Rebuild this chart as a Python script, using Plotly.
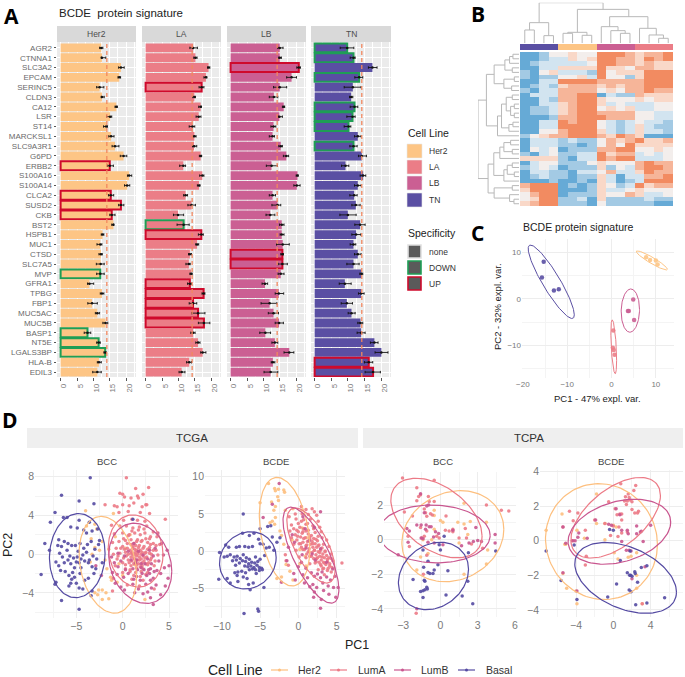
import numpy as np
import plotly.graph_objects as go

W, H = 685, 677
FONT = "Liberation Sans"
GENES = ["AGR2","CTNNA1","SLC3A2","EPCAM","SERINC5","CLDN3","CA12","LSR","ST14","MARCKSL1","SLC9A3R1","G6PD","ERBB2","S100A16","S100A14","CLCA2","SUSD2","CKB","BST2","HSPB1","MUC1","CTSD","SLC7A5","MVP","GFRA1","TPBG","FBP1","MUC5AC","MUC5B","BASP1","NT5E","LGALS3BP","HLA-B","EDIL3"]
GROUPS = ["Her2","LA","LB","TN"]
COLORS = {"Her2":"#FDC585","LA":"#EB7D87","LB":"#CB5F93","TN":"#5A4FA3"}
UPC, DOWNC = "#CF0A2C", "#1F9E55"

her2_val = [12.4,12.6,18.4,17.9,11.9,12.6,17,15.1,13.9,15.4,16.6,19.2,15,20.9,20.3,15.3,18.4,15.6,16.1,12.8,12.1,12.3,12.2,12.1,8.8,12.6,9.6,11.2,13.7,8.2,11.6,13.6,11.7,11.2]
her2_lo = [11.9,12.4,17.7,17.5,11.0,12.4,16.6,14.0,13.1,14.7,15.7,18.2,14.3,20.4,19.5,14.6,17.7,15,15.6,12.4,11.1,11.7,10.9,11,8.2,12.1,8.3,10.6,12.9,7.2,11,13.2,11.2,9.8]
her2_hi = [12.9,13.8,19.4,18.3,13.2,13.3,17.3,15.6,14.3,16.3,17.8,20.2,16.1,21.7,21.1,16.2,19.3,16.6,16.2,13.2,12.6,12.7,13.3,13.3,10.1,13.2,11.2,11.9,14.4,9.2,12.1,13.9,12.4,12.4]
la_val = [14.5,15.2,19.2,18.4,17.1,14.9,16.8,16.2,14.3,14.9,14.8,16.8,11.5,17.3,16.3,12.2,14,9.9,11.6,17,15.7,13.5,13.2,13.9,13.5,17.7,14.5,16,17.8,14.5,16,17.4,13.3,11]
la_lo = [13.5,14.7,18.9,17.8,16.3,14.4,16.2,15.4,13.3,14.5,14.3,16.4,10.4,16.5,15.8,11.6,12.9,8.5,9.6,16.1,15.3,13.1,12.3,13.5,12.8,17.2,13.3,14.1,16.1,13.8,15.3,16.8,12.5,10.2]
la_hi = [15.8,15.7,19.6,18.7,17.8,15.2,17,16.9,15,15.4,15.6,17.1,12.2,17.8,16.6,12.8,15.2,11.6,13.3,17.6,16.2,14,13.6,14.2,14,18.1,15.6,18.1,19.6,15.1,16.6,18.4,14,12]
lb_val = [15,15,20.8,18.6,15,13.2,16.2,14.9,13.1,12.8,15.3,17,12.5,20.4,20.2,12.8,14.3,12.1,15.6,15.6,15.9,15.8,15.8,15.3,10.5,14.7,11.9,13.1,14.8,10.6,13.5,17.9,12.9,12.2]
lb_lo = [14.4,14.7,20.2,17.1,13.1,11.8,15.8,14.5,12.3,11.8,14.7,16.1,10.9,20,19.3,11.8,12.6,10.8,14.9,15.1,14,15.3,14.5,14.5,9.6,13.6,9.3,11.5,13.6,8.9,12.6,16.3,12.4,10.2]
lb_hi = [16,15.5,21.3,20.1,17.1,14.4,16.5,15.8,13.8,13.4,15.8,17.7,14.3,20.6,21.2,13.7,15.3,13.5,16.3,16.3,17.9,16.1,17.3,16.3,11.3,16.2,14.1,14.6,16.1,12.2,14.4,19.3,13.5,14.4]
tn_val = [9.8,11.7,17.4,13.4,11.5,11,12,11.4,10.2,13,11.7,14.2,9.3,14.6,13,11.9,12.4,10,13.7,12.5,11.7,13,11.7,14.1,9.1,14,9.7,11.1,13.8,14,18,20.1,16.3,17.6]
tn_lo = [7.7,10.7,16.2,12.1,8.9,10.5,10.7,9.7,8.9,12,10.6,13.2,8.1,13.7,12,10.6,11.2,7.6,12.1,11.2,10.7,12,9.7,13.6,7.4,13.2,8,10.1,13,12.8,16.8,18.2,15,15.2]
tn_hi = [11.8,12.2,18.8,14.5,14,11.5,13,12.2,10.9,14,12.8,15.6,10.3,15.4,14,12.8,13.7,12.5,15.2,13.9,12.4,14,13.4,14.5,11,14.9,11.4,12.2,14.5,15.2,19.1,22.1,17.5,19.8]
thresholds = [14.1,14.2,14.2,14.2]
up_genes = {"Her2":["ERBB2","CLCA2","SUSD2","CKB"],"LA":["SERINC5","HSPB1","GFRA1","TPBG","FBP1","MUC5AC","MUC5B"],"LB":["SLC3A2","CTSD","SLC7A5"],"TN":["HLA-B","EDIL3"]}
down_genes = {"Her2":["MVP","BASP1","NT5E","LGALS3BP"],"LA":["BST2"],"LB":[],"TN":["AGR2","CTNNA1","EPCAM","CA12","LSR","ST14","SLC9A3R1"]}

heat_rows = [
[-3,-3,-2,0, 0,1,0,0, 3,3,3,2, 1,2,2,3],
[-3,-3,-2,-1, -1,1,0,1, 3,3,2,2, 1,3,2,3],
[-3,-2,-1,-1, -1,-1,-1,0, 3,3,2,2, 1,2,1,1],
[-3,-3,-1,-1, 1,1,1,1, 3,1,1,0, 2,2,1,1],
[-2,-3,0,1, -1,-1,-1,-2, 3,0,1,1, 1,3,3,3],
[-2,-3,-2,-2, 0,0,1,-1, 3,0,0,-2, 1,3,3,3],
[-3,-3,-1,-1, 3,3,3,3, 2,2,2,2, 2,3,3,3],
[-3,-2,-1,-2, 1,2,2,2, 1,2,1,2, 2,3,3,3],
[-2,-3,-1,-1, 2,2,2,2, 0,1,0,2, 2,3,2,2],
[-3,-1,-1,-1, 2,2,3,3, -3,-1,-2,-2, 2,1,1,1],
[-3,-3,-1,-2, 2,2,3,3, 1,0,0,0, 1,0,1,1],
[-3,-3,-1,-1, 1,2,3,3, 1,-1,0,-1, -1,-1,0,0],
[-3,-2,-2,-1, 1,2,3,3, 0,1,0,1, -1,-1,0,0],
[-3,-2,-2,-1, 1,2,3,3, 2,2,2,2, 0,0,-1,-1],
[-3,-3,-3,-2, 2,2,3,3, 3,2,2,2, 0,0,-1,-1],
[-3,-3,-1,-1, 3,2,3,3, 0,-1,-2,-1, 0,-1,-1,-2],
[-3,-3,-1,-1, 3,3,3,3, 0,-1,-2,-1, 1,-1,-2,-2],
[-3,-3,0,0, 2,3,3,3, 1,-1,-2,-1, 1,-1,-1,-2],
[-2,0,1,2, 2,3,3,3, 2,1,3,2, 1,-3,-3,-3],
[-3,-1,-1,-1, -2,-1,-2,-2, 0,2,1,2, 3,1,1,2],
[-3,-1,-1,-1, -2,-2,-3,-2, 0,2,0,3, 1,1,1,1],
[-3,0,-1,0, -3,-2,-2,-2, 2,2,3,3, 0,0,1,0],
[-2,-3,-1,0, -2,-2,-1,-1, 3,1,2,2, -1,0,-1,0],
[1,1,1,1, -2,-3,-1,-1, 3,2,3,3, -1,-1,-1,0],
[-3,-1,0,0, -2,-2,-2,0, 1,0,0,0, 2,3,2,2],
[-2,-1,0,-1, -3,-2,-2,-2, 1,-2,0,-1, 2,3,3,2],
[-3,-1,-1,-2, -2,-3,-1,-1, 0,2,-1,-1, 1,3,2,2],
[-3,-2,-1,-2, -2,-3,-2,-2, 1,-1,-3,-1, -1,2,2,3],
[-3,-3,-3,-2, -3,-3,-2,-3, 1,-1,-3,-2, -1,3,3,3],
[2,3,3,3, -3,-2,-3,-2, 1,0,-2,-1, 3,1,2,2],
[1,3,3,3, -3,-3,-3,-2, 1,-1,-1,0, 1,0,0,0],
[0,2,3,3, -3,-2,-2,-2, 1,0,0,2, 1,-1,-1,0],
[0,1,3,3, -2,-2,-1,-3, 1,-2,-2,-2, -2,-1,-2,-2],
[1,2,3,3, -2,-2,-2,-3, 0,-2,-2,-2, -2,-2,-3,-3],
]
heat_cols = ["TN"]*4 + ["Her2"]*4 + ["LB"]*4 + ["LA"]*4
col_merges = [(0,1,40),(2,3,23),(16,17,62),(4,5,30),(6,7,24),(19,20,33),(10,11,30),(9,22,38),(8,23,50),(14,15,15),(13,25,25),(12,26,45),(24,27,80),(21,28,102),(18,29,122)]
row_merges = [(0,1,18),(34,2,28),(3,4,20),(35,36,42),(5,6,14),(7,8,22),(38,39,45),(37,40,74),(9,10,20),(11,12,14),(13,14,14),(43,44,25),(42,45,38),(15,16,18),(47,17,30),(46,48,52),(49,18,64),(41,50,97),(19,20,25),(21,22,20),(52,53,45),(54,23,57),(24,25,20),(26,27,14),(56,57,35),(58,28,45),(29,30,20),(32,33,15),(31,61,28),(60,62,74),(55,59,75),(64,63,92),(51,65,122)]

pca_pts = {
"Her2":[(7.8,9),(8.7,8.4),(10,8.3),(10.4,7.4)],
"LA":[(0.4,-6.8),(0.3,-10.5),(0.5,-11),(0.7,-12)],
"LB":[(4.9,-0.1),(3.7,-2.6),(3.9,-2.6),(5.1,-4.5)],
"TN":[(-15.3,8),(-15.7,4.6),(-13,1.8),(-11.9,2.1)]}
# centre x, centre y, half width, half height, correlation
pca_ell = {"Her2":(9.1,8.3,3.5,2.05,-0.93),"LA":(0.5,-10.3,0.65,5.8,-0.5),"LB":(4.25,-2.5,2.07,4.65,0.05),"TN":(-13.6,3.7,5.2,7.9,-0.9)}

D_GROUPS = ["Her2","LumA","LumB","Basal"]
D_COLORS = {"Her2":"#FDBF7E","LumA":"#EC7A86","LumB":"#C9568F","Basal":"#544AA2"}

d1_pts = {
"Her2":[(-4.0,4.5),(-1.0,4.2),(-3.9,2.9),(-3.0,3.1),(-2.8,2.6),(-3.4,1.6),(-3.0,0.7),(-3.3,0.0),(-2.5,0.4),(-3.5,-0.8),(-1.7,-1.5),(-1.3,-2.4),(-1.2,-2.7),(-0.6,-2.9),(-2.6,-3.7),(-3.0,-4.0),(-2.7,-4.2),(-2.2,-3.7),(-1.8,-4.0),(-2.2,-4.7),(-1.5,-4.6),(2.4,-4.7),(0.0,-2.2),(-0.4,-1.0),(0.3,0.6),(0.8,2.0),(-1.5,0.5),(-2.2,1.3),(-0.8,1.8),(-1.9,-0.6),(1.3,-1.1)],
"LumA":[(0.4,7.9),(1.4,6.8),(2.8,6.9),(-0.3,6.3),(0.0,6.2),(2.2,6.2),(1.6,6.0),(1.7,5.8),(0.9,5.8),(0.2,5.9),(1.2,5.3),(-1.9,5.1),(-0.9,5.0),(-0.6,4.9),(0.0,5.1),(2.5,5.1),(2.6,5.1),(0.7,5.0),(2.1,4.9),(4.6,3.6),(-0.4,4.3),(0.6,4.4),(1.9,4.3),(2.9,4.2),(0.1,3.5),(1.0,3.6),(1.6,3.5),(2.4,3.4),(-1.2,3.0),(-0.3,2.9),(0.4,2.9),(1.1,2.7),(1.8,2.8),(2.6,2.9),(3.3,2.3),(-0.9,2.1),(0.0,2.2),(0.7,2.0),(1.3,2.2),(1.9,2.0),(2.4,2.2),(3.0,1.8),(3.7,1.8),(-1.1,1.2),(-0.4,1.3),(0.3,1.4),(0.9,1.5),(1.5,1.3),(2.1,1.4),(2.7,1.2),(3.3,1.1),(4.0,1.0),(-0.7,0.6),(0.0,0.8),(0.5,0.6),(1.1,0.8),(1.7,0.7),(2.2,0.6),(2.9,0.7),(3.6,0.4),(-1.0,0.0),(-0.3,0.1),(0.3,0.2),(0.9,0.1),(1.4,0.2),(2.0,0.0),(2.5,0.2),(3.1,0.0),(3.8,-0.1),(-0.6,-0.5),(0.1,-0.4),(0.6,-0.6),(1.2,-0.4),(1.8,-0.6),(2.4,-0.4),(3.0,-0.6),(-0.8,-1.2),(0.3,-1.1),(0.9,-1.2),(1.5,-1.1),(2.1,-1.2),(2.7,-1.1),(3.4,-1.2),(0.0,-1.9),(0.8,-1.8),(1.4,-1.9),(2.0,-1.8),(2.7,-1.9),(1.0,-2.6),(2.2,-2.7),(-1.0,-2.5),(0.5,-3.2),(1.8,-3.3),(-1.1,-3.8),(3.4,-3.6),
(0.2,0.5),(0.4,-0.2),(0.5,1.1),(0.6,0.0),(0.7,-0.9),(0.8,0.4),(0.9,-0.3),(0.9,1.0),(1.0,-0.7),(1.0,0.2),(1.1,-0.1),(1.1,0.6),(1.2,-1.0),(1.2,1.1),(1.3,0.0),(1.3,-0.5),(1.3,0.5),(1.4,-0.8),(1.4,0.9),(1.5,-0.2),(1.5,-1.4),(1.5,0.4),(1.6,0.0),(1.6,-0.6),(1.6,1.5),(1.7,-1.0),(1.7,0.2),(1.8,-0.3),(1.8,0.9),(1.9,-1.3),(1.9,0.4),(2.0,-0.5),(2.0,1.3),(2.1,-0.9),(2.1,0.2),(2.2,-0.2),(2.2,-1.5),(2.3,0.8),(2.3,-0.7),(2.4,0.1),(2.5,-1.0),(2.5,1.6),(2.6,-0.3),(2.7,0.5),(2.8,-0.9),(2.9,0.1),(3.0,1.0),(3.1,-0.4),(3.3,0.4),(0.1,1.6),(0.3,-1.5),(0.6,1.9),(0.8,-1.6),(1.0,2.4),(1.2,-2.2),(1.7,2.5),(1.9,-2.3),(2.3,2.6),(2.5,-2.1),(2.9,1.6),(0.0,-0.9),(-0.2,0.6),(-0.5,-0.2),(3.5,-0.7),(3.6,0.9)],
"LumB":[(-1.2,-0.3),(-0.9,-0.9),(-0.5,-1.3),(-0.2,-0.7),(0.3,-1.6),(-1.1,-1.9),(-0.6,-2.1),(0.1,-2.4),(0.6,-2.0),(1.1,-1.5),(1.5,-2.3),(1.9,-2.7),(2.3,-1.6),(2.6,-2.2),(3.0,-1.5),(3.3,-2.5),(3.7,-1.7),(4.1,-2.0),(4.5,-1.4),(4.9,-2.5),(5.0,-1.2),(3.9,-0.7),(3.3,-0.2),(4.4,-0.1),(2.7,-0.5),(2.2,-0.1),(1.7,0.3),(2.9,0.4),(3.5,0.6),(4.2,1.1),(3.8,2.2),(4.8,0.4),(1.2,1.1),(0.6,0.3),(0.2,-0.2),(-0.5,0.1),(1.4,-0.9),(2.0,-1.0),(1.1,-3.1),(1.7,-3.6),(2.5,-3.1),(3.1,-3.5),(3.6,-3.2),(0.2,-3.7),(2.2,-4.1),(3.0,-4.5),(3.3,-5.2),(4.1,-4.2),(2.7,-3.9),(1.3,-4.0),(4.6,-3.3),(-0.8,-3.0),(-2.9,-1.2),(-2.3,-2.2),(-0.2,-3.4),(1.5,-0.6),(2.0,-1.4),(2.4,-1.0),(2.8,-1.6),(3.1,-1.0),(3.4,-1.8),(2.1,-2.0),(3.0,-2.7),(1.6,-1.6),(2.9,-2.0),(0.9,-0.6),(1.2,-2.6)],
"Basal":[(-3.5,7.9),(-6.6,6.1),(-4.7,5.5),(-3.1,5.2),(-7.3,4.3),(-7.8,3.3),(-6.4,3.8),(-6.0,3.8),(-4.7,3.5),(-3.6,3.3),(1.1,3.6),(-5.6,2.8),(-4.9,2.7),(-4.2,2.5),(-3.9,2.2),(-3.3,2.4),(-2.7,2.6),(-2.5,1.4),(-6.9,1.5),(-7.0,0.9),(-6.6,0.8),(-6.3,1.3),(-5.9,1.1),(-5.5,0.9),(-5.1,0.9),(-4.6,1.1),(-4.2,0.6),(-3.8,1.0),(-3.4,1.3),(-3.0,0.5),(-2.6,1.0),(-8.4,1.1),(-7.9,0.4),(-6.8,0.1),(-6.5,-0.3),(-6.0,0.4),(-5.7,-0.2),(-5.3,-0.4),(-4.9,-0.3),(-4.8,0.3),(-4.5,-0.5),(-4.3,-0.1),(-3.9,0.2),(-3.6,-0.6),(-3.2,-0.2),(-2.8,-0.5),(-2.2,-0.9),(-7.2,-0.8),(-6.9,-1.2),(-6.3,-0.9),(-5.9,-0.6),(-5.6,-1.0),(-5.2,-1.4),(-5.0,-0.8),(-4.7,-0.9),(-4.5,-1.4),(-4.1,-0.7),(-3.7,-0.9),(-3.3,-1.3),(-2.9,-1.5),(-8.8,-2.1),(-7.2,-2.9),(-6.7,-1.7),(-6.2,-1.8),(-5.8,-2.2),(-5.4,-1.9),(-5.2,-2.4),(-4.6,-2.0),(-4.1,-2.7),(-3.7,-2.5),(-3.1,-2.0),(-7.3,-3.1),(-5.8,-3.3),(-5.0,-3.0),(-4.3,-3.6),(-3.4,-4.3),(-6.6,-4.8),(-4.7,-3.5),(-3.3,-3.8),(-5.6,-3.0),(-5.5,-2.6),(-4.7,-5.7)]}
d1_ell = {"Her2":(-1.6,-1.1,3.1,5.0,-0.23),"LumA":(1.4,0.33,2.95,3.73,-0.1),"LumB":(1.9,-0.95,3.4,4.15,-0.2),"Basal":(-4.9,-0.15,3.0,4.35,0.05)}

d2_pts = {
"Her2":[(-3.9,9.1),(-3.1,8.4),(-2.6,8.3),(-3.0,8.1),(-1.9,8.2),(-1.8,7.9),(-2.7,7.3),(-2.6,6.8),(-3.5,6.6),(-5.0,6.5),(-3.0,6.0),(-3.2,5.5),(-1.7,5.5),(-0.7,5.7),(0.4,5.5),(-3.0,4.5),(-3.4,4.0),(-3.7,3.8),(-3.1,3.6),(-2.4,2.7),(-2.2,2.1),(-0.8,1.5),(0.5,3.1),(1.1,1.8),(-1.9,0.9),(0.2,0.2),(0.9,-0.7),(-1.6,-1.8),(-1.1,-2.7),(-2.8,-3.7),(-2.2,-3.5),(-0.7,-3.9),(1.0,-2.0),(1.4,-0.1),(0.2,-1.7)],
"LumA":[(0.4,6.0),(1.0,5.6),(1.8,5.7),(2.1,5.3),(-0.4,5.0),(0.5,5.0),(1.3,4.9),(2.4,4.8),(-1.2,4.6),(-0.3,4.3),(0.7,4.2),(1.6,4.3),(2.6,4.0),(-0.9,3.5),(0.0,3.7),(1.0,3.6),(1.9,3.4),(2.8,3.2),(-1.1,2.7),(-0.2,2.8),(0.6,2.6),(1.3,2.8),(2.2,2.5),(3.0,2.6),(-0.9,1.8),(-0.1,2.0),(0.7,1.7),(1.5,1.9),(2.3,1.6),(3.1,1.8),(3.7,1.5),(-0.6,0.9),(0.3,1.0),(1.1,0.8),(1.9,1.0),(2.6,0.7),(3.3,0.9),(4.0,0.6),(-0.3,0.1),(0.6,0.2),(1.3,-0.1),(2.1,0.1),(2.8,-0.2),(3.5,0.0),(4.3,-0.4),(0.1,-0.8),(1.0,-0.9),(1.7,-0.7),(2.4,-1.0),(3.1,-0.8),(3.8,-1.1),(4.5,-1.3),(1.5,-1.7),(2.2,-1.6),(2.9,-1.8),(3.4,-1.6),(4.1,-2.0),(2.6,-2.5),(3.2,-2.4),(3.8,-2.6),(4.3,-2.8),(3.4,-3.2),(5.7,-1.6),(-1.3,-1.9),(-1.6,-1.3),(-1.7,-0.5),
(-0.6,3.0),(-0.4,2.2),(-0.2,1.5),(0.0,2.6),(0.1,1.0),(0.2,3.2),(0.3,1.9),(0.4,0.5),(0.5,2.4),(0.6,1.2),(0.7,3.0),(0.8,0.2),(0.9,1.8),(1.0,2.7),(1.0,0.7),(1.1,-0.4),(1.2,1.3),(1.3,2.3),(1.4,0.3),(1.5,1.6),(1.5,-0.7),(1.6,0.9),(1.7,2.1),(1.8,-0.2),(1.8,1.3),(1.9,0.5),(2.0,-1.0),(2.0,1.7),(2.1,0.1),(2.2,1.0),(2.3,-0.5),(2.3,-1.4),(2.4,0.5),(2.5,1.4),(2.5,-0.9),(2.6,-0.1),(2.7,-1.5),(2.7,0.8),(2.8,-0.7),(2.9,0.1),(3.0,-1.2),(3.0,-2.0),(3.1,0.4),(3.2,-0.4),(3.3,-1.5),(3.3,-2.3),(3.4,-0.9),(3.5,-0.1),(3.6,-1.8),(3.7,-0.6),(3.8,-1.4),(3.9,-2.3),(4.0,-0.9),(4.1,-1.7),(4.3,-1.0),(4.4,-2.2),(0.4,4.0),(1.2,3.7),(2.0,3.0),(2.6,2.0)],
"LumB":[(-3.4,6.3),(-4.6,4.5),(-2.5,9.1),(-1.5,-1.3),(-2.2,-4.2),(-0.6,-3.0),(0.0,-2.1),(-1.3,0.5),(0.5,-0.5),(1.0,-2.3),(0.6,-3.2),(1.2,-3.6),(1.7,-2.9),(2.1,-3.4),(2.5,-3.1),(2.9,-3.6),(3.2,-4.3),(3.7,-3.5),(4.2,-3.9),(4.8,-3.4),(4.6,-4.9),(5.2,-4.9),(3.9,-4.7),(1.9,-4.5),(2.4,-4.9),(3.3,-5.3),(4.0,-5.8),(4.9,-6.2),(2.0,-6.2),(3.0,-6.5),(2.1,-5.5),(1.5,-4.8),(0.8,-4.3),(-0.4,-3.9),(0.4,-1.5),(1.4,1.4),(2.1,3.2),(0.9,3.0),(2.9,0.3),(3.7,-1.5),(2.2,-1.2),(1.0,0.4),(-0.5,1.2),(-0.8,2.2),(0.6,4.6),(2.9,5.3),(1.8,-0.4),(3.1,-2.8),(4.5,-2.4),(2.9,-7.7)],
"Basal":[(-7.2,5.0),(-5.0,3.0),(-4.0,3.3),(-3.6,3.4),(-3.4,1.9),(-2.8,1.2),(-2.4,1.8),(-7.3,2.4),(-6.4,2.1),(-5.8,2.4),(-5.2,1.6),(-9.5,0.8),(-9.1,0.5),(-8.1,0.5),(-7.7,0.6),(-7.0,0.6),(-6.5,0.5),(-6.0,0.6),(-5.0,1.0),(-4.6,0.9),(-4.2,0.4),(-3.8,0.5),(-3.2,0.1),(-10.3,-0.2),(-9.7,-0.8),(-9.3,-0.7),(-8.9,-0.5),(-8.4,-0.8),(-8.0,-0.7),(-7.6,-1.0),(-7.2,-0.5),(-6.8,-0.9),(-6.4,-1.1),(-5.6,-0.8),(-5.0,-1.1),(-4.4,-0.6),(-8.6,-1.3),(-8.1,-1.2),(-7.7,-1.6),(-7.3,-1.3),(-6.9,-1.4),(-6.5,-1.7),(-6.1,-1.5),(-5.7,-1.6),(-5.3,-1.4),(-8.2,-1.9),(-7.0,-2.0),(-6.6,-2.1),(-6.2,-2.0),(-5.8,-2.2),(-5.4,-1.9),(-5.1,-2.2),(-4.8,-2.3),(-6.4,-2.5),(-6.0,-2.4),(-5.6,-2.5),(-5.1,-2.6),(-4.7,-2.5),(-8.3,-2.9),(-7.9,-2.8),(-7.4,-2.7),(-6.9,-2.9),(-5.5,-3.0),(-8.0,-3.3),(-7.2,-3.5),(-6.7,-3.7),(-10.4,-3.8),(-9.3,-3.7),(-8.9,-4.3),(-7.9,-4.1),(-6.5,-4.5),(-5.9,-4.3),(-4.5,-4.9),(-6.3,-5.2),(-5.3,-7.8),(-5.2,-8.1),(-7.1,-8.4)]}
d2_ell = {"Her2":(-1.8,2.6,3.3,7.3,-0.3),"LumA":(1.65,0.75,3.15,5.05,-0.65),"LumB":(1.65,-0.55,3.65,6.45,-0.72),"Basal":(-6.6,-1.25,3.7,3.85,0.1)}

d3_pts = {
"Her2":[(1.9,2.1),(-0.5,1.7),(-0.5,1.4),(0.0,1.1),(0.2,1.0),(2.4,1.05),(3.7,1.0),(1.4,1.0),(1.9,0.9),(2.2,0.3),(-0.7,0.0),(-1.4,0.0),(1.5,-0.2),(3.8,-0.6),(3.7,-1.4),(-1.6,-1.0),(-1.0,-0.8),(-1.9,-1.75),(1.9,-2.0),(-0.5,0.6)],
"LumA":[(-3.05,3.56),(-0.5,3.44),(-1.9,3.0),(-1.75,2.5),(-1.9,2.25),(-0.97,2.5),(-0.9,2.2),(-0.5,2.2),(-2.9,1.6),(-2.25,1.37),(-1.3,1.77),(-0.65,1.42),(0.45,1.37),(3.7,2.0),(4.9,1.7),(5.5,1.65),(-1.95,-4.25),(-1.37,-2.0),(-1.1,1.35),(-0.8,1.5),(1.0,0.6),(1.0,0.45),(2.0,0.65),(2.1,0.1),(1.5,0.1),(-0.3,0.2),(-0.1,0.1),(0.4,0.55),(0.7,0.5),(-1.6,0.7),(-1.1,0.5),(-2.6,0.2),(-2.5,-0.4),(-1.3,0.2),(-1.5,0.1),(-1.1,-0.9),(-1.6,2.6),(-1.2,1.55),(3.4,-0.5),(2.5,-0.25)],
"LumB":[(-3.4,-0.87),(-1.6,2.65),(-1.3,1.55),(-1.1,1.95),(-0.95,2.0),(-2.7,0.65),(-2.5,0.5),(-1.9,0.85),(-1.55,0.85),(-1.2,0.6),(-0.9,0.75),(-0.75,0.75),(-1.15,0.85),(-0.4,0.45),(-0.15,0.35),(-0.55,0.15),(-1.55,0.1),(-1.4,0.05),(-1.0,-0.15),(-0.5,-0.2),(0.2,-0.3),(-2.6,-0.15),(1.7,-0.35),(2.3,-0.2),(2.65,-0.1),(3.0,-0.05),(3.3,-0.1),(2.85,0.7),(4.4,0.3),(4.4,-0.2),(1.0,0.55),(-1.9,-4.0)],
"Basal":[(0.3,0.2),(-0.1,-0.3),(0.0,-0.6),(-1.4,-0.6),(-1.0,-1.25),(-0.2,-1.45),(-0.5,-1.75),(-0.6,-1.95),(-0.85,-1.95),(-1.0,-1.9),(-1.35,-1.6),(0.6,-1.8),(-2.2,-2.3),(-1.3,-2.35),(-1.25,-2.4),(-1.1,-2.75),(-1.05,-2.85),(-1.25,-2.9),(-1.4,-2.95),(-1.6,-3.0),(-1.4,-3.35),(0.45,-3.2),(1.75,-3.25),(2.2,-2.4),(2.6,-3.7),(2.25,-0.75),(4.45,-0.65)]}
d3_ell = {"Her2":(1.0,0.2,4.1,2.63,0.15),"LumA":(-0.32,1.25,3.67,2.3,-0.45),"LumB":(-0.5,0.33,4.5,1.67,-0.05),"Basal":(-0.56,-2.1,2.82,1.95,0.2)}

d4_pts = {
"Her2":[(-1.8,2.7),(-5.5,1.55),(-7.2,0.6),(-3.9,0.6),(-1.8,1.0),(-0.9,1.0),(0.0,0.9),(0.3,0.8),(-3.1,0.15),(-0.9,0.05),(-5.2,-0.2),(-5.1,-0.2),(0.1,-0.7),(0.5,-1.05),(1.6,-0.95),(1.9,-0.9),(2.5,-0.7),(2.5,-2.0),(-5.4,-1.9),(-5.0,-2.75),(-3.9,-3.65),(3.1,-3.65),(2.5,-2.75),(-4.0,-2.9)],
"LumA":[(0.8,3.3),(2.4,3.2),(2.2,2.9),(1.6,2.7),(1.3,2.55),(1.7,2.5),(1.2,2.3),(1.5,2.3),(1.8,2.35),(1.4,2.1),(2.0,2.25),(-0.5,2.25),(0.2,1.85),(2.0,1.8),(2.3,1.6),(2.6,1.6),(2.7,1.7),(-4.7,1.7),(-3.8,1.6),(0.4,1.5),(0.7,1.55),(0.9,1.55),(-4.3,1.15),(-2.0,1.2),(-0.9,1.0),(0.9,1.2),(-3.0,0.6),(-5.4,0.8),(0.6,0.8),(0.0,0.85),(-0.3,0.3),(0.5,0.25),(0.9,0.45),(1.5,0.5),(-3.0,-1.4),(-2.9,-0.9),(-4.3,0.0),(3.1,-3.65)],
"LumB":[(-5.4,0.8),(-5.1,-0.15),(-4.4,0.0),(-4.1,0.0),(-3.8,0.2),(-3.7,0.45),(-2.8,0.15),(-1.9,1.2),(-0.5,0.95),(-0.2,0.9),(0.3,1.85),(0.7,1.5),(0.9,0.6),(1.5,0.6),(1.6,0.4),(2.5,0.85),(2.5,0.4),(2.9,0.5),(3.0,0.55),(4.0,0.9),(3.2,-0.05),(0.9,-0.05),(1.4,-0.55),(1.7,-0.55),(1.9,-0.6),(-5.4,-1.85),(2.0,-2.2),(-3.9,-2.9),(3.4,-1.5)],
"Basal":[(-7.2,-0.6),(-4.2,-0.25),(-0.4,0.65),(0.0,0.6),(1.8,-0.6),(0.75,-1.15),(1.5,-1.85),(1.75,-2.0),(1.85,-2.0),(2.0,-2.05),(2.3,-1.8),(2.35,-1.9),(3.0,-1.55),(3.6,-1.45),(0.35,-2.5),(1.7,-2.85),(1.9,-2.95),(2.6,-2.4),(-5.6,-2.3),(-0.6,-3.25),(-3.9,-3.4),(2.4,-3.7),(3.6,-3.6),(5.5,-3.3)]}
d4_ell = {"Her2":(-1.27,-0.05,6.0,3.35,-0.05),"LumA":(0.25,1.33,4.8,2.33,0.55),"LumB":(0.65,0.52,5.5,1.88,0.3),"Basal":(1.32,-2.15,5.45,2.05,-0.4)}


def hd(a, b): return [a / W, b / W]
def vd(t, b): return [1 - b / H, 1 - t / H]
def px(x): return x / W
def py(y): return 1 - y / H

def ellipse(cx, cy, rx, ry, rho):
    t = np.linspace(0, 2 * np.pi, 120)
    return cx + rx * np.cos(t), cy + ry * (rho * np.cos(t) + np.sqrt(1 - rho ** 2) * np.sin(t))

def dendro(merges, n):
    pos = {i: i for i in range(n)}
    hgt = {i: 0 for i in range(n)}
    p, h = [], []
    for k, (a, b, ht) in enumerate(merges):
        p += [pos[a], pos[a], pos[b], pos[b], None]
        h += [hgt[a], ht, ht, hgt[b], None]
        pos[n + k] = (pos[a] + pos[b]) / 2
        hgt[n + k] = ht
    return p, h

fig = go.Figure()
layout = {}
shapes, annots = [], []

def text(x, y, s, size=9, color="#4D4D4D", anchor="center", angle=0, bold=False, family=FONT):
    annots.append(dict(x=px(x), y=py(y), xref="paper", yref="paper", text=f"<b>{s}</b>" if bold else s, showarrow=False,
                       font=dict(size=size, color=color, family=family), xanchor=anchor, yanchor="middle", textangle=angle))

def rect(x0, y0, x1, y1, fill, line=None, lw=0):
    shapes.append(dict(type="rect", xref="paper", yref="paper", x0=px(x0), x1=px(x1), y0=py(y0), y1=py(y1),
                       fillcolor=fill, line=dict(color=line or fill, width=lw), layer="below"))

# ---------- Panel A
a_domains = [(57, 136), (142, 221), (227, 306), (311, 391)]
a_data = [(her2_val, her2_lo, her2_hi), (la_val, la_lo, la_hi), (lb_val, lb_lo, lb_hi), (tn_val, tn_lo, tn_hi)]
for i, g in enumerate(GROUPS):
    n = i + 1
    sfx = "" if n == 1 else str(n)
    xn, yn = "x" + sfx, "y" + sfx
    l, r = a_domains[i]
    rect(l, 42, r, 377, "#EBEBEB")
    rect(l, 26, r, 42, "#D9D9D9")
    text((l + r) / 2, 34, g, size=8.5, color="#4D4D4D")
    v, lo, hi = [np.array(q, float) for q in a_data[i]]
    linecol = [UPC if t in up_genes[g] else DOWNC if t in down_genes[g] else COLORS[g] for t in GENES]
    linew = [2 if t in up_genes[g] or t in down_genes[g] else 0 for t in GENES]
    fig.add_trace(go.Bar(y=GENES, x=v, orientation="h", width=0.9, marker=dict(color=COLORS[g], line=dict(color=linecol, width=linew)),
                         xaxis=xn, yaxis=yn, showlegend=False))
    fig.add_trace(go.Scatter(y=GENES, x=v, mode="markers", marker=dict(size=2.5, color="#111111"),
                             error_x=dict(type="data", symmetric=False, array=np.clip(hi - v, 0, None), arrayminus=np.clip(v - lo, 0, None), color="#111111", thickness=0.9, width=1.2),
                             xaxis=xn, yaxis=yn, showlegend=False))
    shapes.append(dict(type="line", xref=xn, yref=f"{yn} domain", x0=thresholds[i], x1=thresholds[i], y0=0, y1=1,
                       line=dict(color="#F2875F", width=1.3, dash="4px,3px"), layer="above"))
    layout["xaxis" + sfx] = dict(domain=hd(l, r), range=[-1.1, 23], anchor=yn, tick0=0, dtick=5, tickangle=-90, ticks="outside", ticklen=2.5, tickwidth=0.8,
                      tickcolor="#555555", ticklabelshift=3, tickfont=dict(size=8, color="#7A7A7A", family=FONT), showgrid=True, gridcolor="white", gridwidth=0.8,
                      minor=dict(showgrid=True, gridcolor="white", gridwidth=0.4, dtick=2.5, tick0=0), zeroline=False, showline=False)
    layout["yaxis" + sfx] = dict(domain=vd(42, 377), range=[33.5, -0.6], anchor=xn, type="category", categoryorder="array", categoryarray=GENES, showgrid=True,
                      gridcolor="white", gridwidth=0.8, zeroline=False, showline=False, showticklabels=(n == 1), ticks="outside" if n == 1 else "", ticklen=2.5, tickwidth=0.8,
                      tickcolor="#555555", dtick=1, tickfont=dict(size=8, color="#6A6A6A", family=FONT))
text(57, 13, "BCDE  protein signature", size=11.5, color="#222222", anchor="left")

# Panel A legends
text(406, 133, "Cell Line", size=10.5, color="#222222", anchor="left")
for k, (g, yy) in enumerate(zip(GROUPS, (144, 160, 176, 193))):
    rect(407, yy, 422, yy + 14, COLORS[g], "#E8E8E8", 0.6)
    text(427, yy + 7, g, size=8.5, color="#333333", anchor="left")
text(406, 233, "Specificity", size=10.5, color="#222222", anchor="left")
for lab, yy, lc in (("none", 245, "#E0E0E0"), ("DOWN", 261, DOWNC), ("UP", 277, UPC)):
    rect(408, yy, 421, yy + 13, "#5A5A5A", lc, 1.6)
    text(427, yy + 7, lab, size=8.5, color="#333333", anchor="left")

# ---------- Panel B
steps = ["#66AAD6", "#A3CAE4", "#D2E4F0", "#F3EEEC", "#F9D8C8", "#F6B599", "#F28B61"]
cs = []
for k, c in enumerate(steps):
    cs += [[k / 7, c], [(k + 1) / 7, c]]
fig.add_trace(go.Heatmap(z=heat_rows, zmin=-3.5, zmax=3.5, colorscale=cs, showscale=False, xgap=0, ygap=0, zsmooth=False, xaxis="x5", yaxis="y5"))
layout["xaxis5"] = dict(domain=hd(520, 673), range=[-0.5, 15.5], anchor="y5", visible=False)
layout["yaxis5"] = dict(domain=vd(52, 206), range=[33.5, -0.5], anchor="x5", visible=False)
gi = [GROUPS.index(c) for c in heat_cols]
acs = []
for k, g in enumerate(GROUPS):
    acs += [[k / 4, COLORS[g]], [(k + 1) / 4, COLORS[g]]]
fig.add_trace(go.Heatmap(z=[gi], zmin=-0.5, zmax=3.5, colorscale=acs, showscale=False, xaxis="x6", yaxis="y6"))
layout["xaxis6"] = dict(domain=hd(520, 673), range=[-0.5, 15.5], anchor="y6", visible=False)
layout["yaxis6"] = dict(domain=vd(44, 50), range=[-0.5, 0.5], anchor="x6", visible=False)
cp, ch = dendro(col_merges, 16)
fig.add_trace(go.Scatter(x=cp, y=ch, mode="lines", line=dict(color="#B8B8B8", width=1), xaxis="x7", yaxis="y7", showlegend=False))
layout["xaxis7"] = dict(domain=hd(520, 673), range=[-0.5, 15.5], anchor="y7", visible=False)
layout["yaxis7"] = dict(domain=vd(2.7, 43.3), range=[0, 122], anchor="x7", visible=False)
rp, rh = dendro(row_merges, 34)
fig.add_trace(go.Scatter(x=rh, y=rp, mode="lines", line=dict(color="#B8B8B8", width=1), xaxis="x8", yaxis="y8", showlegend=False))
layout["xaxis8"] = dict(domain=hd(478, 519), range=[122, 0], anchor="y8", visible=False)
layout["yaxis8"] = dict(domain=vd(52, 206), range=[33.5, -0.5], anchor="x8", visible=False)

# ---------- scatter panels
def scatter_panel(n, pts, ells, colors, order, xdom, ydom, xr, yr, xd, yd, msize, elw):
    xn, yn = f"x{n}", f"y{n}"
    for g in order:
        a = np.array(pts[g])
        fig.add_trace(go.Scatter(x=a[:, 0], y=a[:, 1], mode="markers", marker=dict(size=msize, color=colors[g], opacity=0.9), xaxis=xn, yaxis=yn, showlegend=False))
    for g in order:
        ex, ey = ellipse(*ells[g])
        fig.add_trace(go.Scatter(x=ex, y=ey, mode="lines", line=dict(color=colors[g], width=elw), xaxis=xn, yaxis=yn, showlegend=False))
    grid = "#EDEDED"
    layout[f"xaxis{n}"] = dict(domain=hd(*xdom), range=xr, anchor=yn, tick0=0, dtick=xd, showgrid=True, gridcolor=grid, gridwidth=1, zeroline=False, ticks="",
                               minor=dict(showgrid=True, gridcolor="#F4F4F4", gridwidth=0.6, dtick=xd / 2, tick0=0), tickfont=dict(size=TF[n], color="#7A7A7A", family=FONT))
    layout[f"yaxis{n}"] = dict(domain=vd(*ydom), range=yr, anchor=xn, tick0=0, dtick=yd, showgrid=True, gridcolor=grid, gridwidth=1, zeroline=False, ticks="",
                               minor=dict(showgrid=True, gridcolor="#F4F4F4", gridwidth=0.6, dtick=yd / 2, tick0=0), tickfont=dict(size=TF[n], color="#7A7A7A", family=FONT))

TF = {9: 8, 10: 10.5, 11: 10.5, 12: 10.5, 13: 10.5}
scatter_panel(9, pca_pts, pca_ell, COLORS, GROUPS, (522, 674), (239, 378), [-20.2, 14.1], [-17, 12.9], 10, 10, 4.5, 1)
text(521, 227, "BCDE protein signature", size=10.5, color="#222222", anchor="left")
text(597, 398, "PC1 - 47% expl. var.", size=9.5, color="#222222")
text(497, 307, "PC2 - 32% expl. var.", size=9.5, color="#222222", angle=-90)

scatter_panel(10, d1_pts, d1_ell, D_COLORS, D_GROUPS, (35, 178), (470, 618), [-9.46, 5.97], [-6.6, 8.7], 5, 4, 3.5, 1.2)
scatter_panel(11, d2_pts, d2_ell, D_COLORS, D_GROUPS, (205, 345), (470, 618), [-12.2, 6.1], [-9, 10.9], 5, 5, 3.5, 1.2)
scatter_panel(12, d3_pts, d3_ell, D_COLORS, D_GROUPS, (384, 516), (472, 617), [-4.54, 6.08], [-4.47, 3.91], 3, 2, 3.5, 1.2)
scatter_panel(13, d4_pts, d4_ell, D_COLORS, D_GROUPS, (540, 683), (470, 617), [-7.86, 7.47], [-4.41, 4.09], 4, 2, 3.5, 1.2)

rect(27, 428, 358, 448, "#EFEFEF")
rect(363, 428, 683, 448, "#EFEFEF")
text(192, 438, "TCGA", size=11.5, color="#333333")
text(529, 438, "TCPA", size=11.5, color="#333333")
text(107, 461, "BCC", size=9.5, color="#444444")
text(276, 461, "BCDE", size=9.5, color="#444444")
text(443, 461, "BCC", size=9.5, color="#444444")
text(611, 461, "BCDE", size=9.5, color="#444444")
text(357, 645, "PC1", size=12.5, color="#222222")
text(8, 545, "PC2", size=12.5, color="#222222", angle=-90)

# legend of panel D
text(206, 670, "Cell Line", size=14, color="#222222", anchor="left")
for g, kx, tx in zip(D_GROUPS, (271, 330, 394, 458), (296, 356, 419, 484)):
    shapes.append(dict(type="line", xref="paper", yref="paper", x0=px(kx), x1=px(kx + 17), y0=py(670), y1=py(670), line=dict(color=D_COLORS[g], width=1.2)))
    shapes.append(dict(type="circle", xref="paper", yref="paper", x0=px(kx + 7), x1=px(kx + 10), y0=py(671.5), y1=py(668.5), fillcolor=D_COLORS[g], line=dict(width=0)))
    text(tx, 670, g, size=10.5, color="#333333", anchor="left")

# panel letters
for s, x, y in (("A", 11, 16), ("B", 478, 14), ("C", 478, 233), ("D", 10, 420)):
    text(x, y, s, size=21, color="#000000", bold=True, family="Open Sans")

fig.update_layout(width=W, height=H, margin=dict(l=0, r=0, t=0, b=0, autoexpand=False), autosize=False, paper_bgcolor="white", plot_bgcolor="rgba(0,0,0,0)",
                  barmode="overlay", shapes=shapes, annotations=annots, font=dict(family=FONT), showlegend=False, **layout)
fig.write_html("out.html", config=dict(displayModeBar=False), post_script="document.body.style.margin='0';document.documentElement.style.overflow='hidden';")
